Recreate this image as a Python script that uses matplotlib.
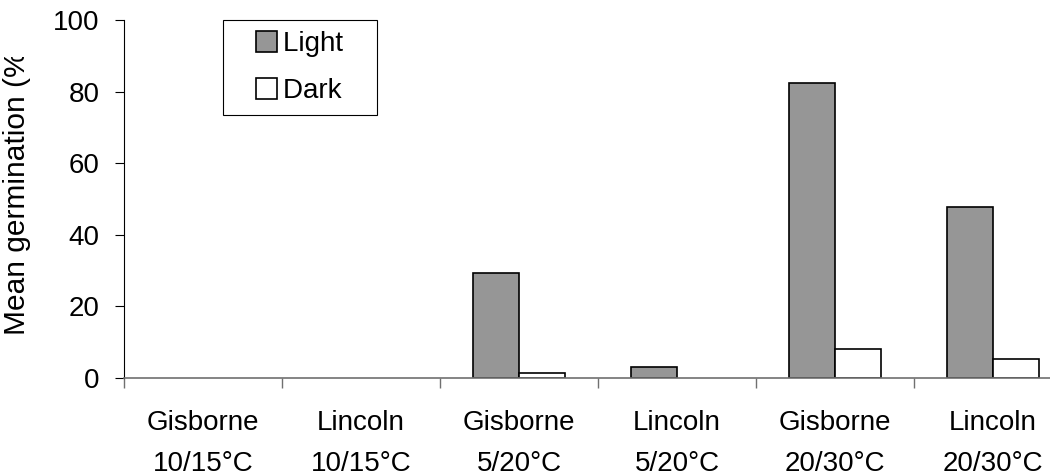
import matplotlib
matplotlib.use("Agg")
import matplotlib.pyplot as plt
from matplotlib.patches import Rectangle
from matplotlib.legend_handler import HandlerPatch
from matplotlib.transforms import Bbox, TransformedBbox

plt.rcParams['font.family'] = ['Liberation Sans', 'DejaVu Sans']

categories = ["Gisborne\n10/15°C", "Lincoln\n10/15°C", "Gisborne\n5/20°C",
              "Lincoln\n5/20°C", "Gisborne\n20/30°C", "Lincoln\n20/30°C"]
light = [0, 0, 29.3, 2.9, 82.5, 47.8]
dark = [0, 0, 1.3, 0, 8.1, 5.3]
yticks = [0, 20, 40, 60, 80, 100]
series_names = ['Light', 'Dark']
series_colors = ['#969696', 'white']

FS = 20
W, H = 1050, 475
fig = plt.figure(figsize=(W / 100, H / 100), dpi=100)
ax = fig.add_axes([124 / W, (H - 377.7) / H, 948 / W, 357.7 / H])

x = list(range(len(categories)))
bw = 0.29
lw_light = [1.2 if v > 0 else 0 for v in light]
lw_dark = [1.2 if v > 0 else 0 for v in dark]
ax.bar([i - bw / 2 for i in x], light, width=bw, color=series_colors[0],
       edgecolor='black', linewidth=lw_light, zorder=3)
ax.bar([i + bw / 2 for i in x], dark, width=bw, color=series_colors[1],
       edgecolor='black', linewidth=lw_dark, zorder=3)

ax.set_xlim(-0.5, len(categories) - 0.5)
ax.set_ylim(0, 100)
ax.set_yticks(yticks)
ax.set_yticklabels([str(t) for t in yticks], fontsize=FS)
ax.tick_params(axis='y', direction='out', length=6.5, width=0.8, pad=11, colors='black')

ax.set_xticks(x)
ax.set_xticklabels(categories, fontsize=FS, linespacing=1.75)
ax.set_xticks([i - 0.5 for i in range(len(categories) + 1)], minor=True)
ax.tick_params(axis='x', which='major', length=0, pad=23)
ax.tick_params(axis='x', which='minor', direction='out', length=7.2, width=1.0, color='#707070')

for s in ['top', 'right']:
    ax.spines[s].set_visible(False)
ax.spines['left'].set_color('black')
ax.spines['left'].set_linewidth(0.8)
ax.spines['bottom'].set_color('#707070')
ax.spines['bottom'].set_linewidth(1.2)
ax.spines['bottom'].set_zorder(4)


def square_patch(legend, orig_handle, xdescent, ydescent, width, height, fontsize):
    size = height
    return Rectangle((-xdescent + width - size, -ydescent), size, size)


handles = [Rectangle((0, 0), 1, 1, facecolor=c, edgecolor='black', linewidth=1.2)
           for c in series_colors]
labels = [n + '   ' for n in series_names]
leg = fig.legend(handles, labels, loc='upper left', bbox_to_anchor=(223 / W, 1 - 20 / H),
                 borderaxespad=0, fontsize=FS, frameon=True, fancybox=False,
                 edgecolor='black', framealpha=1, borderpad=0.4,
                 handlelength=1.55, handleheight=0.8, handletextpad=0.2,
                 labelspacing=0.74,
                 handler_map={Rectangle: HandlerPatch(patch_func=square_patch)})
leg.get_frame().set_linewidth(0.8)

ylab = fig.text(17 / W, 1 - 335 / H, 'Mean germination (%)', rotation=90,
                ha='center', va='bottom', fontsize=21.5)
ylab.set_clip_box(TransformedBbox(Bbox.from_extents(0, 0, 1, 1 - 57 / H), fig.transFigure))
ylab.set_clip_on(True)

fig.savefig('out.png', dpi=100)
